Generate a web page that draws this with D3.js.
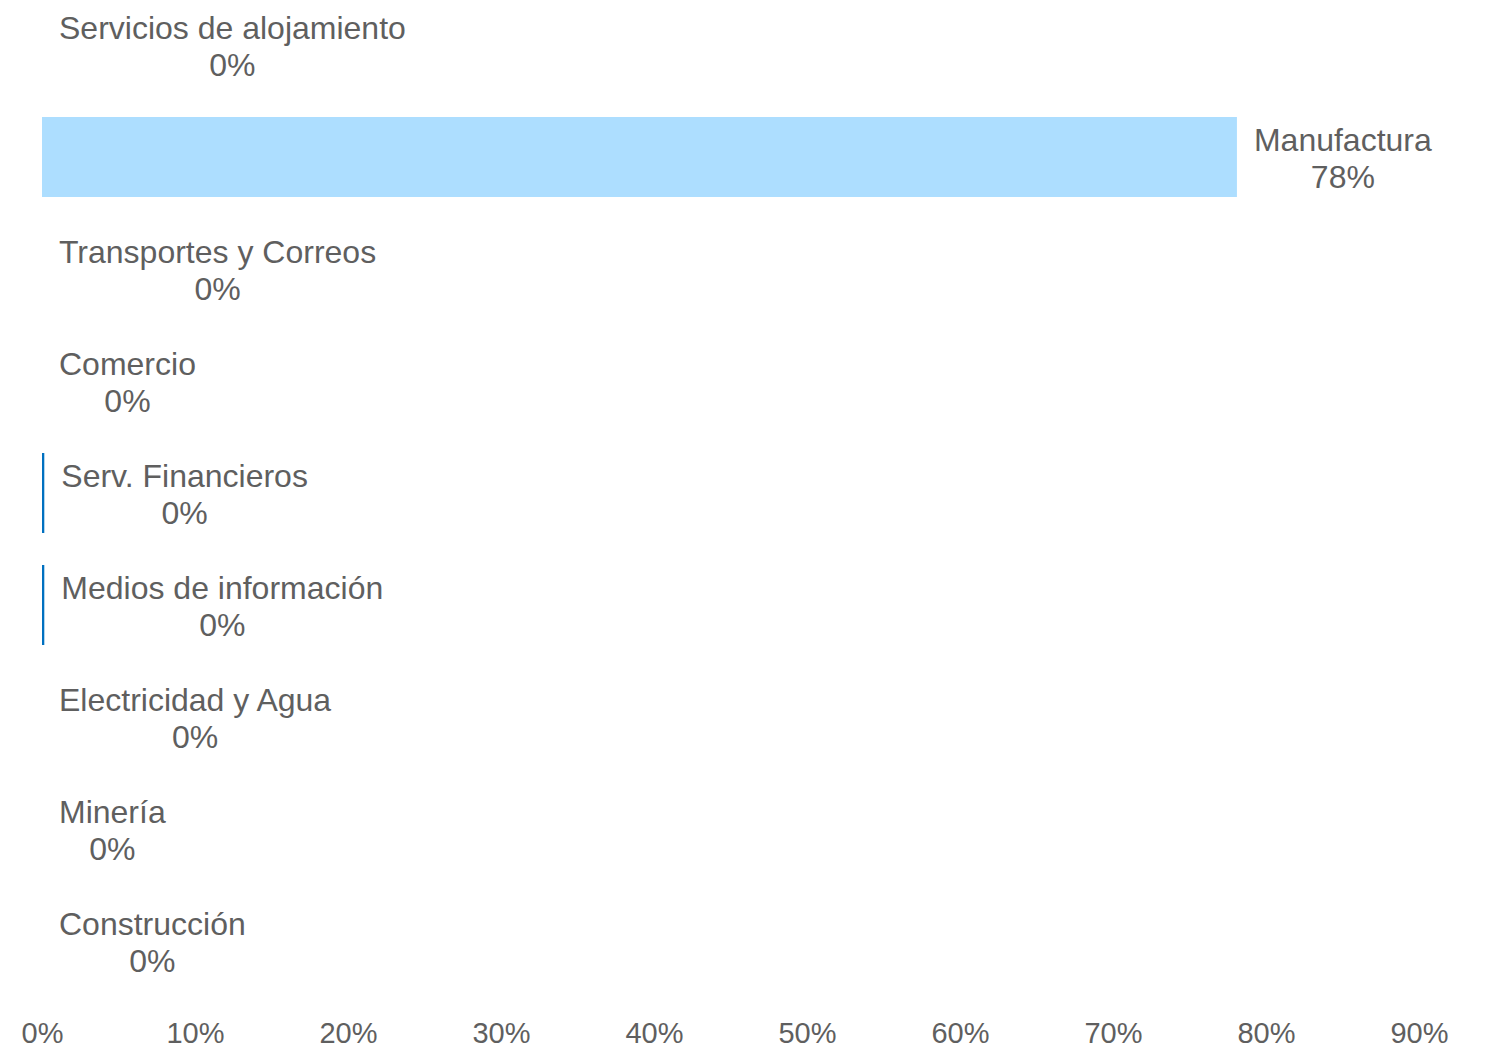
<!DOCTYPE html>
<html>
<head>
<meta charset="utf-8">
<script src="https://cdn.jsdelivr.net/npm/d3@7"></script>
<style>
  html, body { margin: 0; padding: 0; background: #ffffff; }
  svg { display: block; font-family: "Liberation Sans", Arial, sans-serif; }
</style>
</head>
<body>
<svg id="chart" width="1490" height="1051"></svg>
<script>
// Sector shares (percent), top to bottom
const categories = [
  "Servicios de alojamiento",
  "Manufactura",
  "Transportes y Correos",
  "Comercio",
  "Serv. Financieros",
  "Medios de información",
  "Electricidad y Agua",
  "Minería",
  "Construcción"
];
const values = [0, 78.1, 0, 0, 0.15, 0.15, 0, 0, 0];
const valueLabels = ["0%", "78%", "0%", "0%", "0%", "0%", "0%", "0%", "0%"];
const barColors = ["#0070C0", "#ADDEFF", "#0070C0", "#0070C0", "#0070C0", "#0070C0", "#0070C0", "#0070C0", "#0070C0"];
const tickValues = [0, 10, 20, 30, 40, 50, 60, 70, 80, 90];

const svg = d3.select("#chart");
const textColor = "#5f5f5f";

const x = d3.scaleLinear().domain([0, 90]).range([42, 1419]);
const y = d3.scaleBand()
  .domain(categories)
  .range([-11, 997])
  .paddingInner(0.2857)
  .paddingOuter(0.1429);

// Bars
svg.append("g")
  .selectAll("rect")
  .data(categories)
  .join("rect")
  .attr("x", x(0))
  .attr("y", d => y(d))
  .attr("width", (d, i) => x(values[i]) - x(0))
  .attr("height", y.bandwidth())
  .attr("fill", (d, i) => barColors[i]);

// Data labels: category name over value, centred as a block right of the bar end
const labels = svg.append("g")
  .selectAll("g")
  .data(categories)
  .join("g");

labels.each(function (d, i) {
  const g = d3.select(this);
  const cy = y(d) + y.bandwidth() / 2;
  const t1 = g.append("text")
    .attr("y", cy - 6)
    .attr("font-size", 32)
    .attr("fill", textColor)
    .attr("text-anchor", "middle")
    .text(d);
  const t2 = g.append("text")
    .attr("y", cy + 31)
    .attr("font-size", 32)
    .attr("fill", textColor)
    .attr("text-anchor", "middle")
    .text(valueLabels[i]);
  const w = Math.max(t1.node().getComputedTextLength(), t2.node().getComputedTextLength());
  const cx = x(values[i]) + 17 + w / 2;
  t1.attr("x", cx);
  t2.attr("x", cx);
});

// X axis (labels only)
const xAxis = d3.axisBottom(x)
  .tickValues(tickValues)
  .tickFormat(d => d + "%")
  .tickSize(0)
  .tickPadding(0);

const axisG = svg.append("g")
  .attr("transform", "translate(0,1020)")
  .call(xAxis);
axisG.select(".domain").remove();
axisG.selectAll("text")
  .attr("font-size", 29)
  .attr("font-family", "Liberation Sans, Arial, sans-serif")
  .attr("fill", textColor)
  .attr("dy", "0.8em");
</script>
</body>
</html>
